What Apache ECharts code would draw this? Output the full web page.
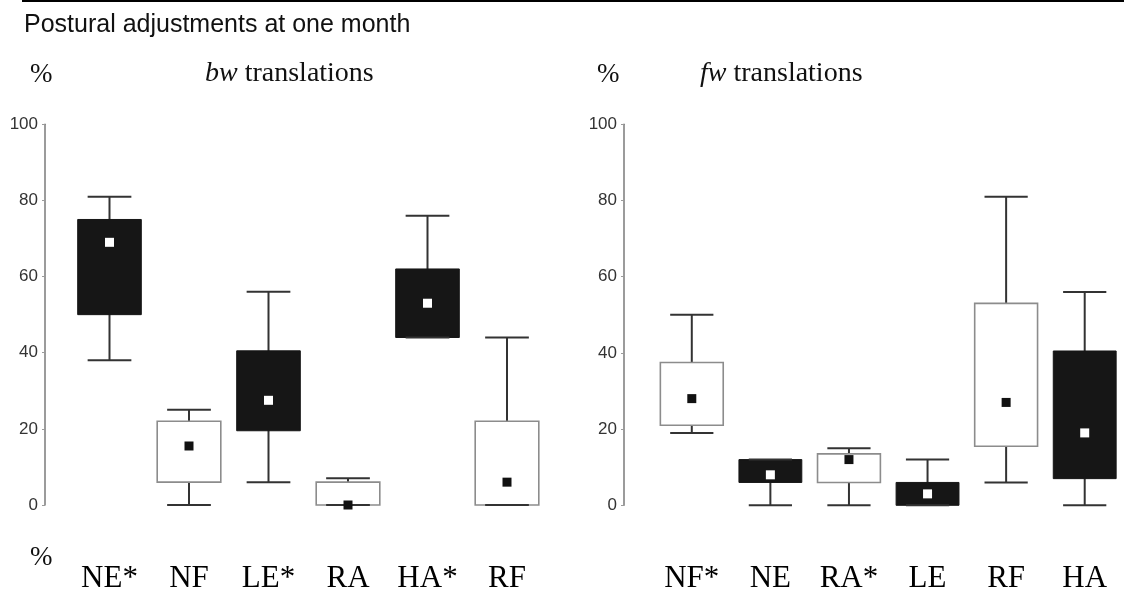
<!DOCTYPE html>
<html>
<head>
<meta charset="utf-8">
<script src="https://cdn.jsdelivr.net/npm/echarts@6/dist/echarts.min.js"></script>
<style>
  html, body { margin: 0; padding: 0; background: #fff; }
  #chart { width: 1124px; height: 605px; }
</style>
</head>
<body>
<div id="chart"></div>
<script>
// Backward (bw) translations: box = interquartile range, whiskers = range, square = mean
const bwCategories = ['NE*', 'NF', 'LE*', 'RA', 'HA*', 'RF'];
const bwMin  = [38, 0, 6, 0, 44, 0];
const bwQ1   = [50, 6, 19.5, 0, 44, 0];
const bwQ3   = [75, 22, 40.5, 6, 62, 22];
const bwMax  = [81, 25, 56, 7, 76, 44];
const bwMean = [69, 15.5, 27.5, 0, 53, 6];
const bwShaded = [1, 0, 1, 0, 1, 0];

// Forward (fw) translations
const fwCategories = ['NF*', 'NE', 'RA*', 'LE', 'RF', 'HA'];
const fwMin  = [19, 0, 0, 0, 6, 0];
const fwQ1   = [21, 6, 6, 0, 15.5, 7];
const fwQ3   = [37.5, 12, 13.5, 6, 53, 40.5];
const fwMax  = [50, 12, 15, 12, 81, 56];
const fwMean = [28, 8, 12, 3, 27, 19];
const fwShaded = [0, 1, 0, 1, 0, 1];

const yTicks = { min: 0, max: 100, interval: 20 };

const SERIF = '"Liberation Serif", "Times New Roman", serif';
const SANS = '"Liberation Sans", Arial, sans-serif';

function rows(cats, mn, q1, q3, mx, mean, shaded) {
  return cats.map((c, i) => [i, mn[i], q1[i], q3[i], mx[i], mean[i], shaded[i]]);
}

function renderBox(params, api) {
  const i = api.value(0);
  const pMin = api.coord([i, api.value(1)]);
  const pQ1 = api.coord([i, api.value(2)]);
  const pQ3 = api.coord([i, api.value(3)]);
  const pMax = api.coord([i, api.value(4)]);
  const pMean = api.coord([i, api.value(5)]);
  const dark = api.value(6) === 1;
  const band = api.size([1, 0])[0];
  const boxW = band * 0.8;
  const capW = band * 0.55;
  const cx = pMin[0];
  const whisker = { stroke: '#333333', lineWidth: 2 };
  const sq = 9;
  return {
    type: 'group',
    children: [
      { type: 'line', shape: { x1: cx, y1: pMax[1], x2: cx, y2: pMin[1] }, style: whisker },
      {
        type: 'rect',
        shape: { x: cx - boxW / 2, y: pQ3[1], width: boxW, height: pQ1[1] - pQ3[1] },
        style: dark ? { fill: '#161616', stroke: '#161616', lineWidth: 1 }
                    : { fill: '#ffffff', stroke: '#8c8c8c', lineWidth: 1.6 }
      },
      { type: 'line', shape: { x1: cx - capW / 2, y1: pMax[1], x2: cx + capW / 2, y2: pMax[1] }, style: whisker },
      { type: 'line', shape: { x1: cx - capW / 2, y1: pMin[1], x2: cx + capW / 2, y2: pMin[1] }, style: whisker },
      {
        type: 'rect',
        shape: { x: cx - sq / 2, y: pMean[1] - sq / 2, width: sq, height: sq },
        style: { fill: dark ? '#ffffff' : '#111111' }
      }
    ]
  };
}

function yAxisFor(gridIndex, offset) {
  return {
    type: 'value', gridIndex, min: yTicks.min, max: yTicks.max, interval: yTicks.interval,
    offset,
    axisLine: { show: true, lineStyle: { color: '#7a7a7a', width: 1.5 } },
    axisTick: { show: true, length: 3, lineStyle: { color: '#9a9a9a', width: 1 } },
    splitLine: { show: false },
    axisLabel: { color: '#333', fontFamily: SANS, fontSize: 17, margin: 7 }
  };
}

function xAxisFor(gridIndex, cats) {
  return {
    type: 'category', gridIndex, data: cats, boundaryGap: true,
    axisLine: { show: false }, axisTick: { show: false }, splitLine: { show: false },
    axisLabel: { color: '#000', fontFamily: SERIF, fontSize: 31, margin: 58, interval: 0 }
  };
}

const chart = echarts.init(document.getElementById('chart'), null, { renderer: 'canvas' });

chart.setOption({
  backgroundColor: '#ffffff',
  animation: false,
  grid: [
    { left: 69.75, top: 124.3, width: 477, height: 380.7 },
    { left: 652.5, top: 124.3, width: 480.6, height: 381 }
  ],
  xAxis: [xAxisFor(0, bwCategories), xAxisFor(1, fwCategories)],
  yAxis: [yAxisFor(0, 24.75), yAxisFor(1, 28.5)],
  series: [
    {
      type: 'custom', xAxisIndex: 0, yAxisIndex: 0,
      renderItem: renderBox,
      encode: { x: 0, y: [1, 2, 3, 4, 5] },
      data: rows(bwCategories, bwMin, bwQ1, bwQ3, bwMax, bwMean, bwShaded)
    },
    {
      type: 'custom', xAxisIndex: 1, yAxisIndex: 1,
      renderItem: renderBox,
      encode: { x: 0, y: [1, 2, 3, 4, 5] },
      data: rows(fwCategories, fwMin, fwQ1, fwQ3, fwMax, fwMean, fwShaded)
    }
  ],
  graphic: [
    { type: 'line', shape: { x1: 22, y1: 1, x2: 1124, y2: 1 }, style: { stroke: '#000', lineWidth: 2 } },
    {
      type: 'text', left: 24, top: 13,
      style: { text: 'Postural adjustments at one month', font: '25px ' + SANS, fill: '#111' }
    },
    {
      type: 'text', left: 30, top: 61,
      style: { text: '%', font: '27px ' + SERIF, fill: '#111' }
    },
    {
      type: 'text', left: 205, top: 60,
      style: {
        text: '{i|bw} translations', font: '28px ' + SERIF, fill: '#111',
        rich: { i: { fontStyle: 'italic', fontFamily: SERIF, fontSize: 28, fill: '#111' } }
      }
    },
    {
      type: 'text', left: 597, top: 61,
      style: { text: '%', font: '27px ' + SERIF, fill: '#111' }
    },
    {
      type: 'text', left: 700, top: 60,
      style: {
        text: '{i|fw} translations', font: '28px ' + SERIF, fill: '#111',
        rich: { i: { fontStyle: 'italic', fontFamily: SERIF, fontSize: 28, fill: '#111' } }
      }
    },
    {
      type: 'text', left: 30, top: 544,
      style: { text: '%', font: '27px ' + SERIF, fill: '#111' }
    }
  ]
});
</script>
</body>
</html>
